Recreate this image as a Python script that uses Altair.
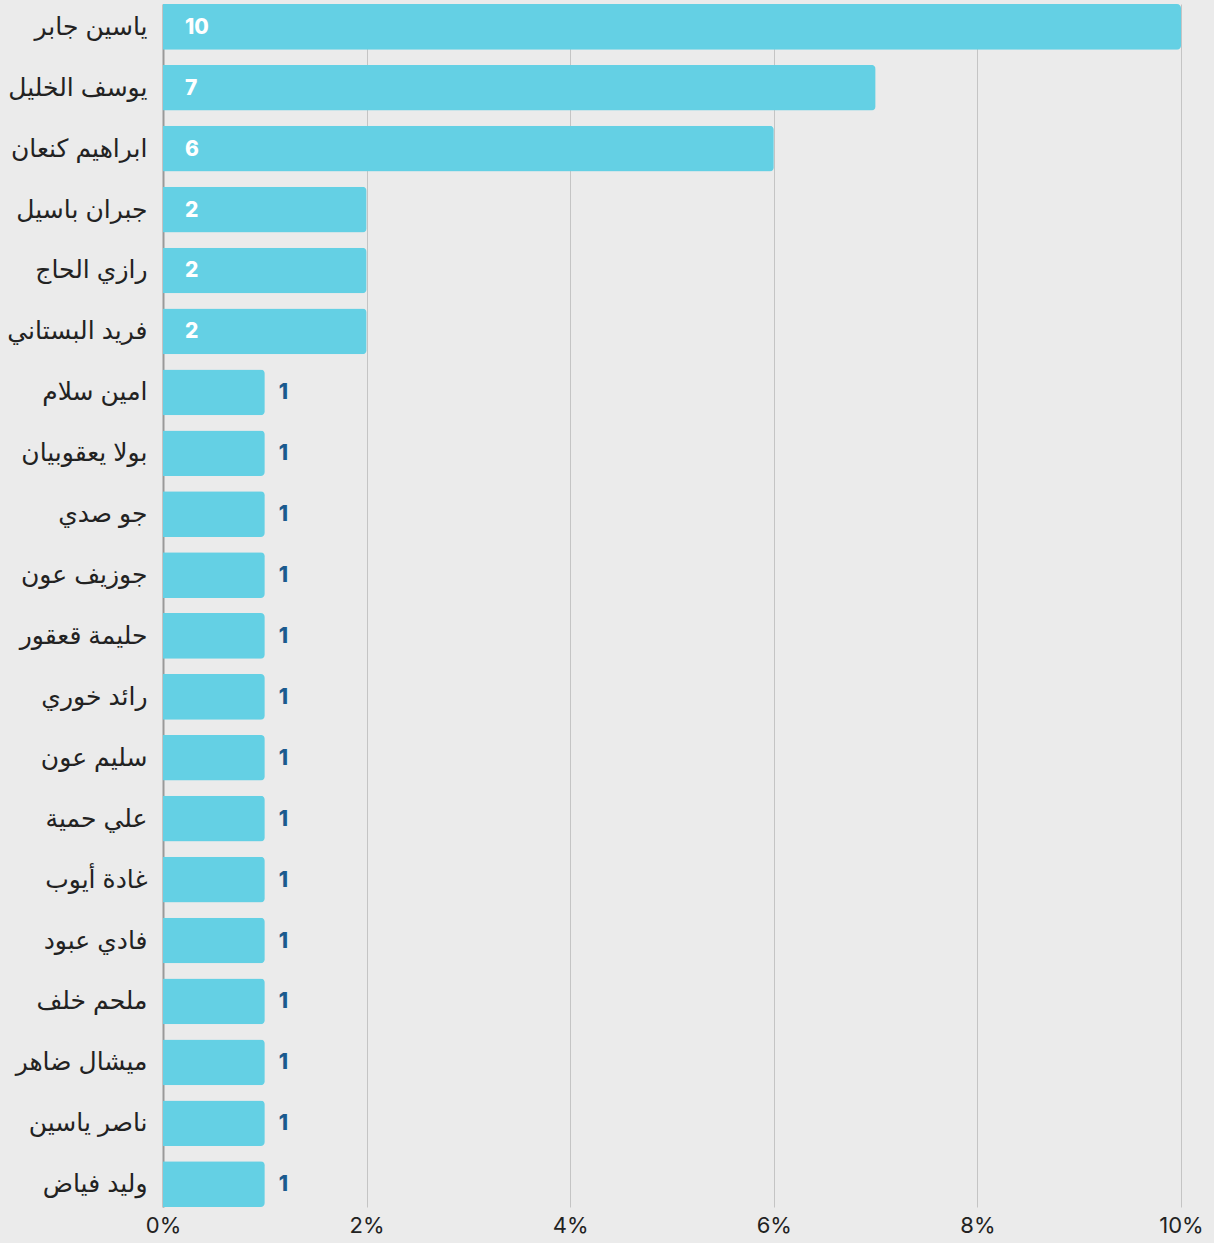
import altair as alt
import pandas as pd

names = ["ياسين جابر", "يوسف الخليل", "ابراهيم كنعان", "جبران باسيل", "رازي الحاج",
         "فريد البستاني", "امين سلام", "بولا يعقوبيان", "جو صدي", "جوزيف عون",
         "حليمة قعقور", "رائد خوري", "سليم عون", "علي حمية", "غادة أيوب",
         "فادي عبود", "ملحم خلف", "ميشال ضاهر", "ناصر ياسين", "وليد فياض"]
counts = [10, 7, 6, 2, 2, 2, 1, 1, 1, 1, 1, 1, 1, 1, 1, 1, 1, 1, 1, 1]

df = pd.DataFrame({"name": names, "count": counts})
df["pct"] = df["count"] / 100.0
df["label"] = df["count"].astype(str)

FONT = "Inter, DejaVu Sans"

y = alt.Y("name:N", sort=names, title=None,
          scale=alt.Scale(paddingInner=0.25, paddingOuter=0),
          axis=alt.Axis(labelFontSize=25, labelColor="#222222", labelFont=FONT,
                        labelPadding=16, ticks=False, domain=True,
                        domainColor="#999999", domainWidth=2, grid=False))
x = alt.X("pct:Q", title=None,
          scale=alt.Scale(domain=[0, 0.1], nice=False),
          axis=alt.Axis(format=".0%", values=[0, 0.02, 0.04, 0.06, 0.08, 0.1],
                        labelFontSize=22, labelColor="#222222", labelFont=FONT,
                        grid=True, gridColor="#c4c4c4", gridWidth=1,
                        ticks=False, domain=False, labelPadding=8,
                        labelFlush=False))

bars = alt.Chart(df).mark_bar(color="#64d0e4", cornerRadiusEnd=4).encode(x=x, y=y)

inside = alt.Chart(df).transform_filter("datum.count >= 2").mark_text(
    align="left", baseline="middle", dx=22, dy=1, font=FONT, fontSize=21,
    fontWeight=800, color="white").encode(
    x=alt.value(0), y=alt.Y("name:N", sort=names), text="label:N")

outside = alt.Chart(df).transform_filter("datum.count < 2").mark_text(
    align="left", baseline="middle", dx=14, dy=1, font=FONT, fontSize=21,
    fontWeight=800, color="#1b5a8e").encode(
    x="pct:Q", y=alt.Y("name:N", sort=names), text="label:N")

chart = alt.layer(bars, inside, outside).properties(
    width=1018, height=1203,
    padding={"left": 163, "top": 4, "right": 33, "bottom": 36},
    autosize=alt.AutoSizeParams(type="none"),
    background="#ebebeb",
).configure_view(stroke=None)

chart.save("out.html", embed_options={"renderer": "svg", "actions": False})
